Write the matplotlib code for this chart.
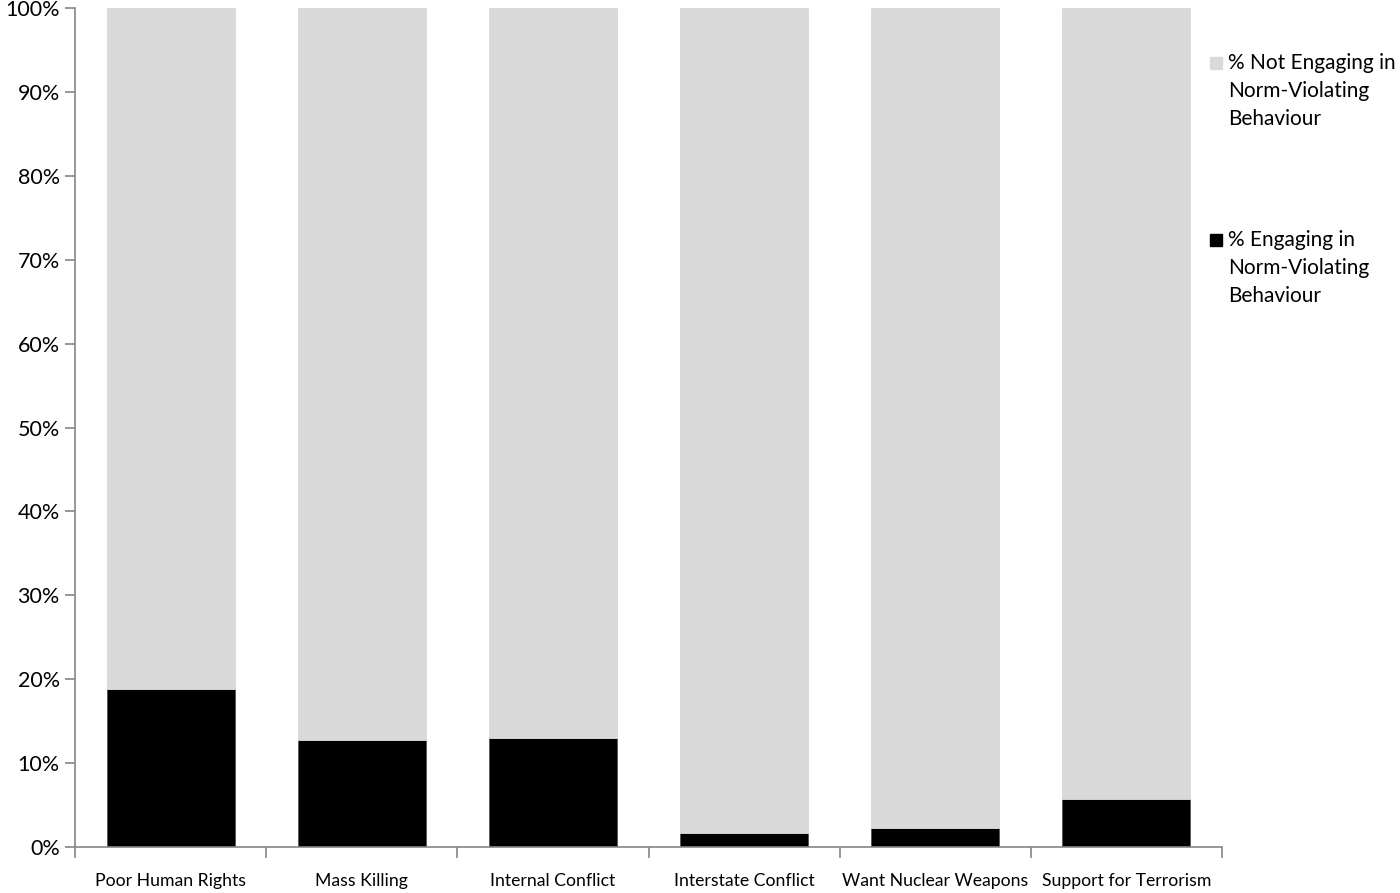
import matplotlib
matplotlib.use("Agg")
import matplotlib.pyplot as plt
from matplotlib.patches import Rectangle
from matplotlib.ticker import FuncFormatter, FixedLocator
import numpy as np

plt.rcParams['font.family'] = ['Lato', 'DejaVu Sans']

categories = ["Poor Human Rights", "Mass Killing", "Internal Conflict",
              "Interstate Conflict", "Want Nuclear Weapons", "Support for Terrorism"]
engaging = [18.8, 12.7, 13.0, 1.7, 2.3, 5.7]
not_engaging = [100 - v for v in engaging]
yticks = [0, 10, 20, 30, 40, 50, 60, 70, 80, 90, 100]
legend_labels = ["% Not Engaging in\nNorm-Violating\nBehaviour",
                 "% Engaging in\nNorm-Violating\nBehaviour"]

W, H = 1400, 893
fig = plt.figure(figsize=(14, 8.93), dpi=100)
ax = fig.add_axes([75 / W, 1 - 847 / H, (1222 - 75) / W, (847 - 8) / H])

x = np.arange(len(categories))
gray = "#d9d9d9"
ax.bar(x, engaging, width=0.67, color="black", edgecolor="#555555", linewidth=0.6)
ax.bar(x, not_engaging, bottom=engaging, width=0.67, color=gray, edgecolor=gray, linewidth=0.6)

ax.set_xlim(-0.5, len(categories) - 0.5)
ax.set_ylim(0, 100)
ax.yaxis.set_major_locator(FixedLocator(yticks))
ax.yaxis.set_major_formatter(FuncFormatter(lambda v, p: f"{int(v)}%"))
ax.tick_params(axis='y', labelsize=15.5, length=7, width=1.2, color="#868686", pad=4, direction='out')

ax.set_xticks(np.arange(len(categories) + 1) - 0.5)
ax.set_xticklabels([])
ax.set_xticks(x, minor=True)
ax.set_xticklabels(categories, minor=True, fontsize=12.7)
ax.tick_params(axis='x', which='major', length=8, width=1.2, color="#868686", direction='out')
ax.tick_params(axis='x', which='minor', length=0, pad=19)

for s in ['top', 'right']:
    ax.spines[s].set_visible(False)
for s in ['left', 'bottom']:
    ax.spines[s].set_color("#868686")
    ax.spines[s].set_linewidth(1.2)

# legend drawn manually (markers aligned with first line as in the reference)
leg_colors = [gray, "black"]
leg_tops = [53, 230]
for lab, col, top in zip(legend_labels, leg_colors, leg_tops):
    fig.patches.append(Rectangle((1210 / W, 1 - (top + 16) / H), 12 / W, 12 / H,
                                 transform=fig.transFigure, facecolor=col,
                                 edgecolor=col, figure=fig))
    fig.text(1228 / W, 1 - top / H, lab, fontsize=15, va='top', ha='left',
             linespacing=1.5)

fig.savefig("out.png", dpi=100)
